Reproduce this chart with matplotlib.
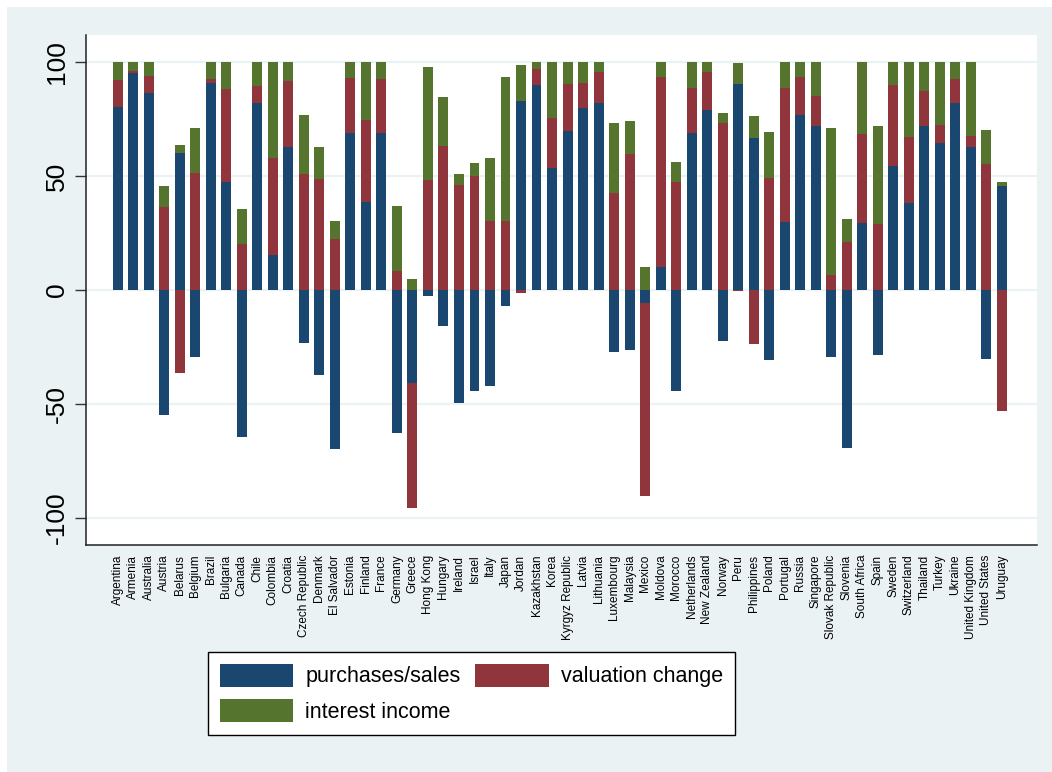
import numpy as np
import matplotlib
matplotlib.use('Agg')
import matplotlib.pyplot as plt
from matplotlib.patches import Rectangle, Patch

plt.rcParams['font.family'] = ['Liberation Sans', 'DejaVu Sans']

# --- data ---
countries = ['Argentina', 'Armenia', 'Australia', 'Austria', 'Belarus', 'Belgium', 'Brazil',
             'Bulgaria', 'Canada', 'Chile', 'Colombia', 'Croatia', 'Czech Republic', 'Denmark',
             'El Salvador', 'Estonia', 'Finland', 'France', 'Germany', 'Greece', 'Hong Kong',
             'Hungary', 'Ireland', 'Israel', 'Italy', 'Japan', 'Jordan', 'Kazakhstan', 'Korea',
             'Kyrgyz Republic', 'Latvia', 'Lithuania', 'Luxembourg', 'Malaysia', 'Mexico',
             'Moldova', 'Morocco', 'Netherlands', 'New Zealand', 'Norway', 'Peru', 'Philippines',
             'Poland', 'Portugal', 'Russia', 'Singapore', 'Slovak Republic', 'Slovenia',
             'South Africa', 'Spain', 'Sweden', 'Switzerland', 'Thailand', 'Turkey', 'Ukraine',
             'United Kingdom', 'United States', 'Uruguay']

purchases = [80.4, 95.0, 86.3, -54.8, 60.2, -29.5, 90.6, 47.5, -64.6, 81.9, 15.4, 62.9, -23.4, -37.3,
             -69.9, 68.7, 38.6, 69.0, -62.9, -40.9, -2.5, -15.8, -49.7, -44.3, -42.1, -6.9, 83.0, 89.9,
             53.5, 69.7, 79.8, 82.0, -27.3, -26.5, -5.7, 9.9, -44.2, 68.9, 78.7, -22.5, 90.5, 66.7,
             -30.7, 30.0, 76.8, 72.1, -29.5, -69.4, 29.4, -28.4, 54.5, 38.0, 72.1, 64.6, 81.9,
             62.9, -30.1, 45.8]

valuation = [11.7, 1.0, 7.7, 36.3, -36.5, 51.2, 1.9, 40.7, 20.2, 7.7, 42.6, 28.8, 50.9, 48.7,
             22.4, 24.4, 36.0, 23.4, 8.5, -54.6, 48.2, 63.2, 45.9, 50.0, 30.1, 30.3, -1.2, 7.0,
             22.1, 20.4, 11.0, 13.6, 42.7, 59.8, -84.7, 83.5, 47.5, 19.7, 16.9, 73.0, -0.3, -23.7,
             49.3, 58.6, 16.6, 13.0, 6.6, 21.2, 38.9, 29.1, 35.4, 29.0, 15.2, 7.6, 10.6,
             4.8, 55.3, -53.1]

interest = [7.9, 4.0, 6.0, 9.3, 3.4, 19.7, 7.5, 11.8, 15.3, 10.4, 42.0, 8.3, 25.9, 14.0,
            7.9, 6.9, 25.4, 7.6, 28.5, 4.8, 49.6, 21.2, 4.8, 5.7, 27.9, 63.0, 15.7, 3.1,
            24.4, 9.9, 9.2, 4.4, 30.4, 14.3, 9.9, 6.6, 8.5, 11.4, 4.4, 4.6, 9.2, 9.6,
            20.1, 11.4, 6.6, 14.9, 64.3, 9.8, 31.7, 43.0, 10.1, 33.0, 12.7, 27.8, 7.5,
            32.3, 15.0, 1.6]

series = [('purchases/sales', purchases, '#1a476f'),
          ('valuation change', valuation, '#90353b'),
          ('interest income', interest, '#55752f')]

W, H = 1052, 772
fig = plt.figure(figsize=(W / 100, H / 100), dpi=100, facecolor='white')

# outer stata-like background
bg = Rectangle((7 / W, 0), 1 - 7 / W, 1 - 7 / H, transform=fig.transFigure,
               facecolor='#eaf2f3', edgecolor='none', zorder=-10)
fig.add_artist(bg)

ax = fig.add_axes([86 / W, 1 - 545 / H, (1037 - 86) / W, (545 - 35) / H])
ax.set_facecolor('white')

x = np.arange(len(countries))
pos_base = np.zeros(len(countries))
neg_base = np.zeros(len(countries))
for name, vals, col in series:
    v = np.array(vals)
    bottoms = np.where(v >= 0, pos_base, neg_base)
    ax.bar(x, v, 0.64, bottom=bottoms, color=col, edgecolor='none', zorder=3)
    pos_base = pos_base + np.clip(v, 0, None)
    neg_base = neg_base + np.clip(v, None, 0)

ax.set_xlim(-2.04, 59.26)
ax.set_ylim(-111.8, 111.8)
ax.set_yticks([-100, -50, 0, 50, 100])
ax.set_yticklabels(['-100', '-50', '0', '50', '100'], rotation=90, va='center', fontsize=19)
ax.grid(axis='y', color='#eaf2f3', lw=1.6, zorder=1)
ax.tick_params(axis='y', length=8, width=1, pad=4, color='#333333')

ax.set_xticks(x)
ax.set_xticklabels(countries, rotation=90, fontsize=8.5, ha='center', va='top')
ax.tick_params(axis='x', length=0, pad=7)

for s in ['top', 'right']:
    ax.spines[s].set_visible(False)
for s in ['left', 'bottom']:
    ax.spines[s].set_color('#222222')
    ax.spines[s].set_linewidth(1.1)

handles = [Patch(facecolor=c, edgecolor='none') for _, _, c in series]
labels = [n for n, _, _ in series]
# row1 = purchases, valuation; row2 = interest
leg = fig.legend([handles[0], handles[2], handles[1]], [labels[0], labels[2], labels[1]],
                 ncol=2, loc='upper left', bbox_to_anchor=(208 / W, 1 - 652 / H),
                 frameon=True, fancybox=False, fontsize=15.5,
                 handlelength=3.4, handleheight=1.25, handletextpad=0.56, columnspacing=0.7,
                 labelspacing=0.55, borderpad=0.55, borderaxespad=0, framealpha=1)
leg.get_frame().set_edgecolor('black')
leg.get_frame().set_linewidth(1.0)

fig.savefig('out.png', dpi=100, facecolor='white')
